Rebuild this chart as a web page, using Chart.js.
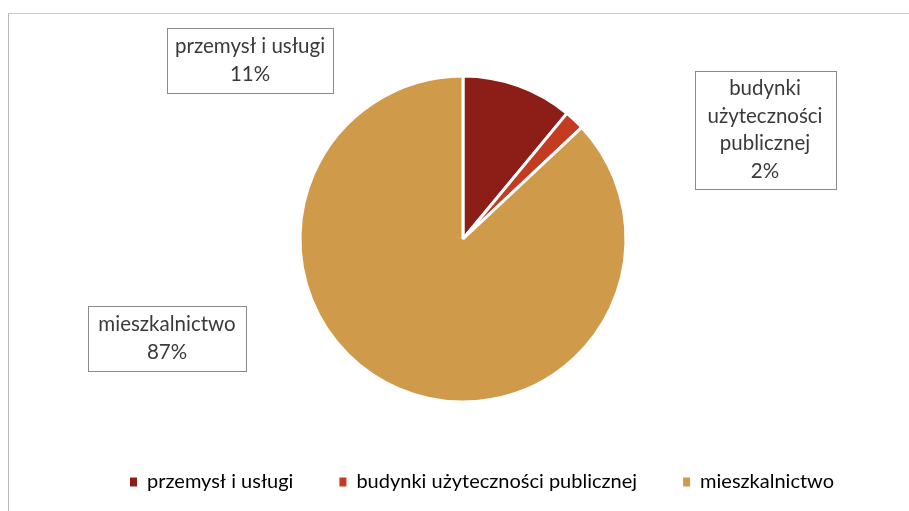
<!DOCTYPE html>
<html>
<head>
<meta charset="utf-8">
<script src="https://cdn.jsdelivr.net/npm/chart.js@4/dist/chart.umd.min.js"></script>
<style>
  html, body { margin: 0; padding: 0; background: #fff; }
  #frame {
    position: absolute; left: 8px; top: 13px; width: 901px; height: 498px;
    border-top: 1px solid #c8c8c8; border-left: 1px solid #b8b8b8;
  }
  #wrap { position: absolute; left: 0; top: 0; width: 909px; height: 511px; }
</style>
</head>
<body>
<div id="frame"></div>
<div id="wrap"><canvas id="canvas"></canvas></div>
<script>
// data
var categories = ['przemysł i usługi', 'budynki użyteczności publicznej', 'mieszkalnictwo'];
var shares = [11, 2, 87];
var sliceColors = ['#8c1d17', '#c33c22', '#cf9b4a'];

// callout text lines (label split as in the picture)
var calloutLines = [
  ['przemysł i usługi'],
  ['budynki', 'użyteczności', 'publicznej'],
  ['mieszkalnictwo']
];
// box placement relative to the pie centre: [centreX offset, top offset, width, height]
var calloutBoxes = [
  [-213, -211, 166, 65],
  [302, -168, 141, 118],
  [-296, 67, 158, 65]
];

var FONT = 'Lato, "Open Sans", sans-serif';

var calloutPlugin = {
  id: 'callouts',
  afterLayout: function (chart) {
    // legend sits a bit right of the pie centre in the original
    if (chart.legend) {
      chart.legend.left += 19;
      chart.legend.right += 19;
    }
  },
  afterDraw: function (chart) {
    var ctx = chart.ctx;
    var arc = chart.getDatasetMeta(0).data[0];
    var cx = arc.x, cy = arc.y;
    ctx.save();
    ctx.font = '20.5px ' + FONT;
    ctx.textAlign = 'center';
    ctx.textBaseline = 'middle';
    for (var i = 0; i < calloutBoxes.length; i++) {
      var b = calloutBoxes[i];
      var x0 = cx + b[0] - b[2] / 2, y0 = cy + b[1];
      ctx.fillStyle = '#fff';
      ctx.fillRect(x0, y0, b[2], b[3]);
      ctx.strokeStyle = '#8a8a8a';
      ctx.lineWidth = 1;
      ctx.strokeRect(Math.round(x0) + 0.5, Math.round(y0) + 0.5, b[2], b[3]);
      var lines = calloutLines[i].concat([shares[i] + '%']);
      var lh = 27.5;
      var startY = y0 + b[3] / 2 - (lines.length - 1) * lh / 2;
      ctx.fillStyle = '#3a3a3a';
      for (var k = 0; k < lines.length; k++) {
        ctx.fillText(lines[k], cx + b[0], startY + k * lh);
      }
    }
    ctx.restore();
  }
};

var config = {
  type: 'pie',
  data: {
    labels: categories,
    datasets: [{
      data: shares,
      backgroundColor: sliceColors,
      borderColor: '#ffffff',
      borderWidth: 3,
      radius: 163
    }]
  },
  options: {
    responsive: true,
    maintainAspectRatio: false,
    animation: false,
    layout: { padding: { left: 34, right: 17, top: 52, bottom: 9 } },
    plugins: {
      tooltip: { enabled: false },
      legend: {
        position: 'bottom',
        labels: {
          color: '#333',
          font: { family: FONT, size: 20 },
          boxWidth: 7,
          boxHeight: 9,
          padding: 46,
          generateLabels: function (chart) {
            return categories.map(function (c, i) {
              return { text: c, fillStyle: sliceColors[i], strokeStyle: sliceColors[i], lineWidth: 0, index: i };
            });
          }
        }
      }
    }
  },
  plugins: [calloutPlugin]
};

var ctx = document.getElementById('canvas').getContext('2d');
window.myPie = new Chart(ctx, config);
</script>
</body>
</html>
